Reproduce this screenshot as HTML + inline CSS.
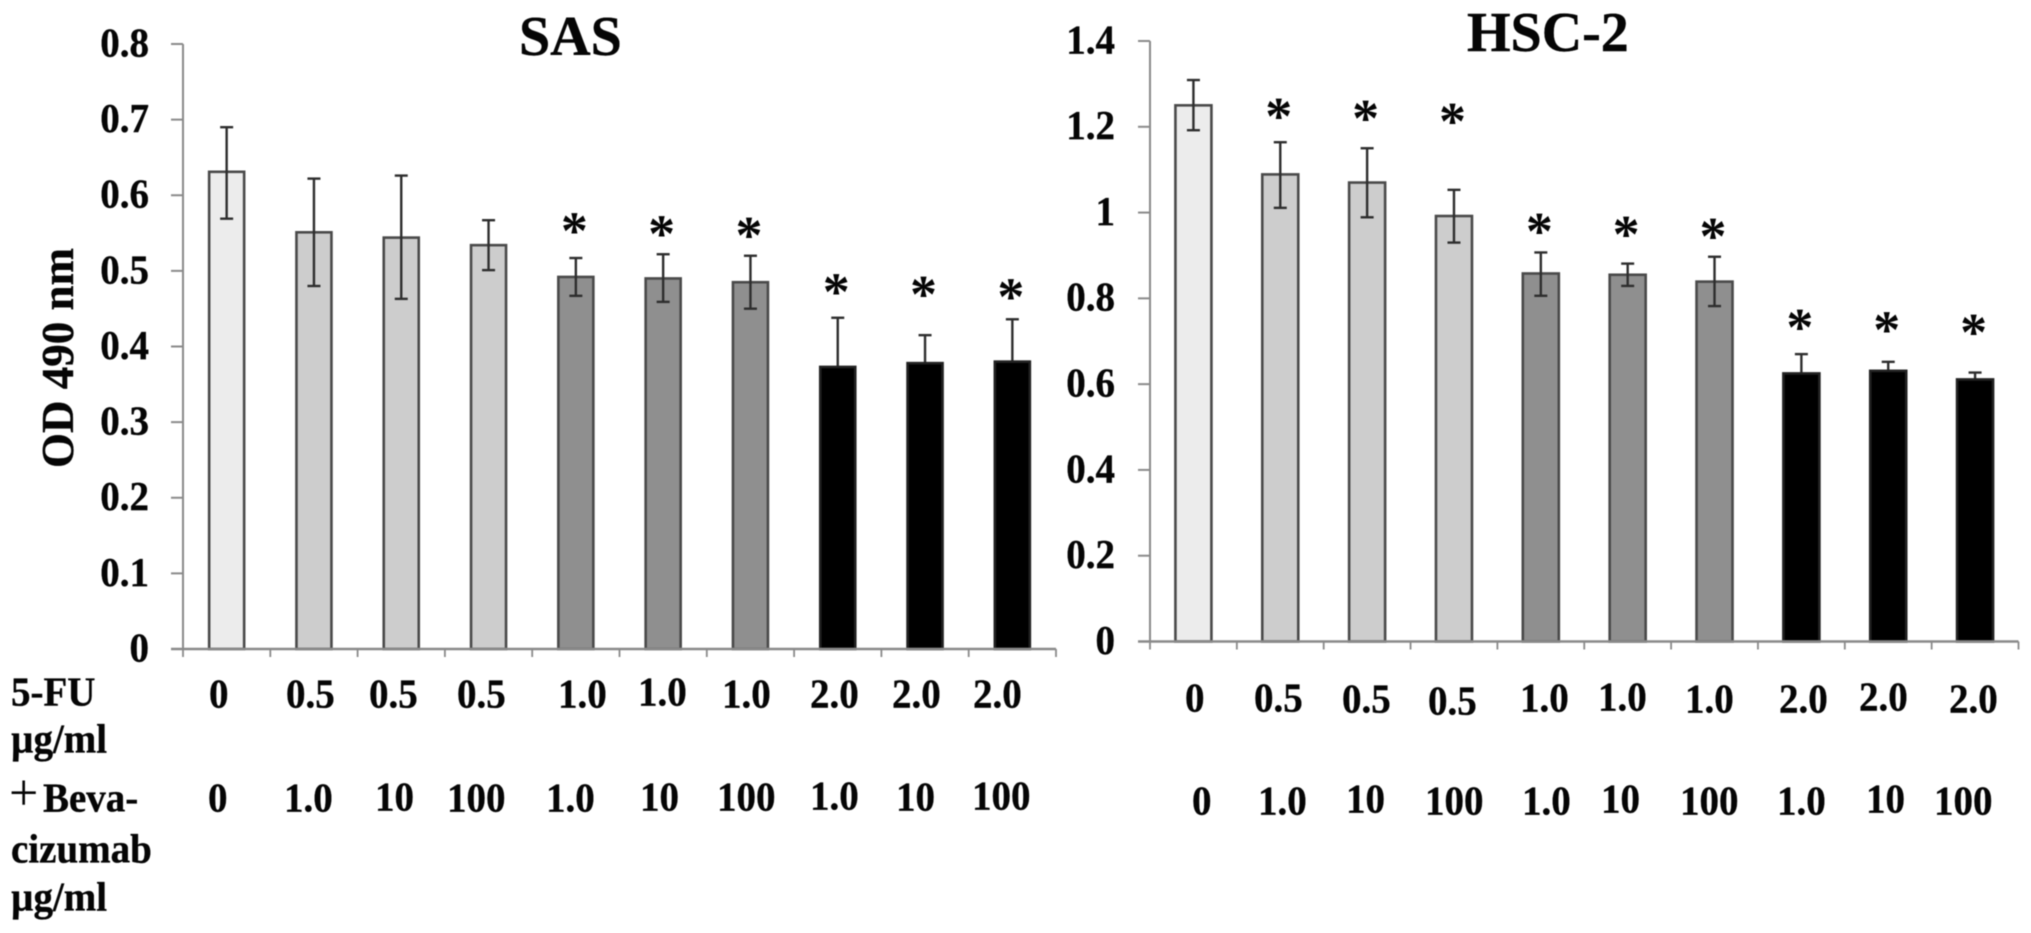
<!DOCTYPE html>
<html>
<head>
<meta charset="utf-8">
<title>SAS and HSC-2 OD 490 nm</title>
<style>
html,body{margin:0;padding:0;background:#fff;width:2031px;height:933px;overflow:hidden}
svg{display:block;filter:blur(0.55px)}
text{font-family:"Liberation Serif",serif;font-weight:bold;fill:#050505}
.lab{font-size:39px;stroke:#050505;stroke-width:0.35px;transform-box:fill-box;transform-origin:0 100%;transform:scaleY(1.07)}
</style>
</head>
<body>
<svg id="figure" width="2031" height="933" viewBox="0 0 2031 933" xmlns="http://www.w3.org/2000/svg">
<rect width="2031" height="933" fill="#fff"/>
<g id="sas-chart"></g>
<g id="hsc-chart"></g>

<text x="519" y="55" style="font-size:56px;stroke:#050505;stroke-width:0.4px">SAS</text>
<text x="1467" y="51" style="font-size:56px;stroke:#050505;stroke-width:0.4px">HSC-2</text>
<text transform="translate(73,468) rotate(-90)" style="font-size:45px;stroke:#050505;stroke-width:0.35px">OD 490 nm</text>

<g>
<text class="lab" x="11" y="706">5-FU</text>
<text class="lab" x="11" y="753">µg/ml</text>
<text x="9" y="810" style="font-size:52px;font-weight:normal">+</text>
<text class="lab" x="43" y="812">Beva-</text>
<text class="lab" x="11" y="863">cizumab</text>
<text class="lab" x="11" y="911">µg/ml</text>
</g>

<g>
<text class="lab" x="209" y="708">0</text>
<text class="lab" x="286" y="708">0.5</text>
<text class="lab" x="369" y="708">0.5</text>
<text class="lab" x="457" y="708">0.5</text>
<text class="lab" x="558" y="708">1.0</text>
<text class="lab" x="638" y="706">1.0</text>
<text class="lab" x="722" y="708">1.0</text>
<text class="lab" x="810" y="708">2.0</text>
<text class="lab" x="892" y="708">2.0</text>
<text class="lab" x="973" y="708">2.0</text>
</g>
<g>
<text class="lab" x="208" y="812">0</text>
<text class="lab" x="284" y="812">1.0</text>
<text class="lab" x="375" y="811">10</text>
<text class="lab" x="447" y="812">100</text>
<text class="lab" x="546" y="812">1.0</text>
<text class="lab" x="640" y="811">10</text>
<text class="lab" x="717" y="811">100</text>
<text class="lab" x="810" y="810">1.0</text>
<text class="lab" x="896" y="811">10</text>
<text class="lab" x="972" y="810">100</text>
</g>
<g>
<text class="lab" x="1185" y="712">0</text>
<text class="lab" x="1254" y="712">0.5</text>
<text class="lab" x="1342" y="713">0.5</text>
<text class="lab" x="1428" y="715">0.5</text>
<text class="lab" x="1520" y="712">1.0</text>
<text class="lab" x="1598" y="711">1.0</text>
<text class="lab" x="1685" y="713">1.0</text>
<text class="lab" x="1779" y="713">2.0</text>
<text class="lab" x="1859" y="711">2.0</text>
<text class="lab" x="1949" y="713">2.0</text>
</g>
<g>
<text class="lab" x="1192" y="815">0</text>
<text class="lab" x="1258" y="815">1.0</text>
<text class="lab" x="1346" y="813">10</text>
<text class="lab" x="1425" y="815">100</text>
<text class="lab" x="1522" y="815">1.0</text>
<text class="lab" x="1601" y="813">10</text>
<text class="lab" x="1680" y="815">100</text>
<text class="lab" x="1777" y="815">1.0</text>
<text class="lab" x="1866" y="813">10</text>
<text class="lab" x="1934" y="815">100</text>
</g>
</svg>

<script>
const categories = ['0+0','0.5+1','0.5+10','0.5+100','1+1','1+10','1+100','2+1','2+10','2+100'];
const fuGroups = [0,1,1,1,2,2,2,3,3,3];

const sasTicks = [0,0.1,0.2,0.3,0.4,0.5,0.6,0.7,0.8];
const sasTickLabels = ['0','0.1','0.2','0.3','0.4','0.5','0.6','0.7','0.8'];
const sasValues = [0.631,0.551,0.544,0.534,0.492,0.490,0.485,0.373,0.378,0.380];
const sasErrHigh = [0.690,0.622,0.626,0.567,0.517,0.522,0.520,0.438,0.415,0.436];
const sasErrLow = [0.569,0.480,0.463,0.501,0.467,0.459,0.450,0.310,0.340,0.325];
const sasStars = [null,null,null,null,0.562,0.558,0.556,0.481,0.478,0.475];

const hscTicks = [0,0.2,0.4,0.6,0.8,1,1.2,1.4];
const hscTickLabels = ['0','0.2','0.4','0.6','0.8','1','1.2','1.4'];
const hscValues = [1.250,1.089,1.070,0.992,0.858,0.855,0.839,0.625,0.631,0.611];
const hscErrHigh = [1.309,1.164,1.150,1.053,0.907,0.881,0.897,0.670,0.652,0.627];
const hscErrLow = [1.192,1.011,0.989,0.930,0.806,0.829,0.782,0.580,0.610,0.595];
const hscStars = [null,1.240,1.236,1.229,0.972,0.965,0.961,0.748,0.742,0.737];

const groupFills = ['#ececec','#cdcdcd','#8f8f8f','#000000'];
const SVGNS = 'http://www.w3.org/2000/svg';

function drawChart(cfg) {
  const root = document.getElementById(cfg.id);
  const yPos = function (v) { return cfg.y0 - (v / cfg.yMax) * (cfg.y0 - cfg.yTop); };
  const step = (cfg.x1 - cfg.x0) / categories.length;
  const xPos = function (i) { return cfg.x0 + (i + 0.5) * step; };

  function make(tag, attrs, parent) {
    const el = document.createElementNS(SVGNS, tag);
    Object.keys(attrs).forEach(function (k) { el.setAttribute(k, attrs[k]); });
    (parent || root).appendChild(el);
    return el;
  }

  cfg.ticks.forEach(function (t, i) {
    const y = yPos(t);
    const tick = make('line', {x1: cfg.x0 - 12, x2: cfg.x0, y1: y, y2: y, stroke: '#8a8a8a', 'stroke-width': 2});
    
    
    const label = make('text', {x: cfg.labelX, y: y + 13, 'text-anchor': 'end', class: 'lab'});
    label.textContent = cfg.tickLabels[i];
    
    
  });

  categories.forEach(function (c, i) {
    const group = fuGroups[i];
    const cx = xPos(i);
    const topY = yPos(cfg.values[i]);
    const isBlack = group === 3;

    function drawError() {
      const hi = yPos(cfg.errHigh[i]);
      const lo = yPos(cfg.errLow[i]);
      const stem = make('line', {x1: cx, x2: cx, y1: hi, y2: lo, stroke: '#2e2e2e', 'stroke-width': 2.4});
      
      
      const capHi = make('line', {x1: cx - 6.5, x2: cx + 6.5, y1: hi, y2: hi, stroke: '#2e2e2e', 'stroke-width': 2.4});
      
      
      const capLo = make('line', {x1: cx - 6.5, x2: cx + 6.5, y1: lo, y2: lo, stroke: '#2e2e2e', 'stroke-width': 2.4});
      
      
    }

    if (isBlack) drawError();
    const bar = make('rect', {
      x: cx - cfg.barW / 2, y: topY, width: cfg.barW, height: yPos(0) - topY,
      fill: groupFills[group], stroke: isBlack ? '#222' : '#4a4a4a', 'stroke-width': 2.6
    });
    
    
    if (!isBlack) drawError();

    if (cfg.stars[i] !== null) {
      const star = make('text', {x: cx - 1.5, y: yPos(cfg.stars[i]) + 25, 'text-anchor': 'middle', 'font-size': 54});
      star.textContent = '*';
      
      
    }
  });

  const yAxis = make('line', {x1: cfg.x0, x2: cfg.x0, y1: yPos(cfg.yMax), y2: yPos(0), stroke: '#8a8a8a', 'stroke-width': 2});
  
  
  const xAxis = make('line', {x1: cfg.x0 - 12, x2: cfg.x1, y1: yPos(0), y2: yPos(0), stroke: '#8a8a8a', 'stroke-width': 2.4});
  
  
  for (let i = 0; i <= categories.length; i++) {
    const tx = cfg.x0 + i * step;
    const xt = make('line', {x1: tx, x2: tx, y1: yPos(0), y2: yPos(0) + 8, stroke: '#8a8a8a', 'stroke-width': 1.8});
    
    
  }
}

drawChart({
  id: 'sas-chart', prefix: 'sas', x0: 183, x1: 1056, y0: 649, yTop: 44, yMax: 0.8, barW: 35, labelX: 149,
  ticks: sasTicks, tickLabels: sasTickLabels, values: sasValues,
  errHigh: sasErrHigh, errLow: sasErrLow, stars: sasStars
});
drawChart({
  id: 'hsc-chart', prefix: 'hsc', x0: 1150, x1: 2018.5, y0: 641.5, yTop: 41, yMax: 1.4, barW: 36, labelX: 1115,
  ticks: hscTicks, tickLabels: hscTickLabels, values: hscValues,
  errHigh: hscErrHigh, errLow: hscErrLow, stars: hscStars
});
</script>
</body>
</html>
